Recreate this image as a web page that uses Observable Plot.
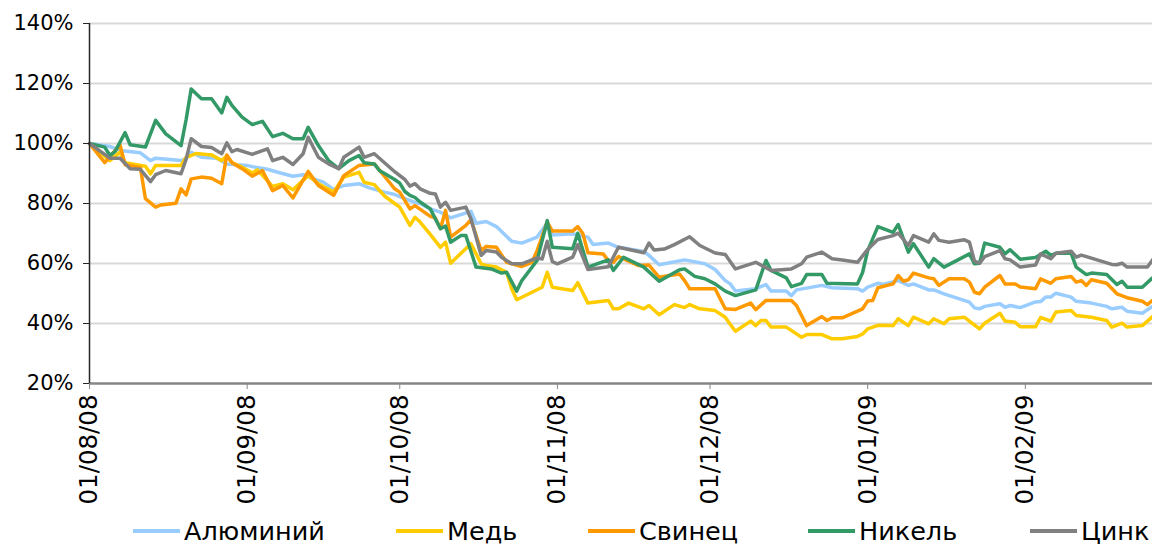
<!DOCTYPE html>
<html>
<head>
<meta charset="utf-8">
<script src="https://cdn.jsdelivr.net/npm/d3@7"></script>
<script src="https://cdn.jsdelivr.net/npm/@observablehq/plot@0.6"></script>
<style>
  html, body { margin: 0; padding: 0; background: #fff; }
  body { width: 1152px; height: 547px; overflow: hidden; font-family: "DejaVu Sans", Verdana, sans-serif; position: relative; }
  #legend { position: absolute; left: 0; top: 515px; width: 1152px; height: 32px; font-size: 25.5px; line-height: 30px; white-space: nowrap; color: #000; }
  #legend .item { position: absolute; top: 0; height: 32px; display: flex; align-items: center; }
  #legend .sw { width: 47px; height: 4px; margin-right: 4px; }
</style>
</head>
<body>
<div id="chart"></div>
<div id="legend"></div>
<script>
const seriesNames = ["Алюминий", "Медь", "Свинец", "Никель", "Цинк"];
const seriesColors = ["#99ccff", "#ffcc00", "#ff9900", "#339966", "#808080"];
const yTicks = [20, 40, 60, 80, 100, 120, 140];
const xTicks = ["2008-08-01", "2008-09-01", "2008-10-01", "2008-11-01", "2008-12-01", "2009-01-01", "2009-02-01"];
const xDomain = ["2008-08-01", "2009-02-26"];

const aluminium = [["2008-08-01",100],["2008-08-05",99],["2008-08-07",97.7],["2008-08-11",96.9],["2008-08-13",94.3],["2008-08-14",95.1],["2008-08-19",94.3],["2008-08-20",95],["2008-08-21",97.1],["2008-08-23",95.4],["2008-08-26",95.1],["2008-08-28",93.2],
["2008-09-01",92.7],["2008-09-02",92.3],["2008-09-05",91.4],["2008-09-07",90.4],["2008-09-10",89.1],["2008-09-12",89.6],["2008-09-14",88.2],["2008-09-16",87.1],["2008-09-18",84.6],["2008-09-20",86],["2008-09-23",86.6],["2008-09-25",85.2],["2008-09-28",83.8],["2008-09-30",83],
["2008-10-01",82.3],["2008-10-04",80.4],["2008-10-05",80],["2008-10-07",78.2],["2008-10-09",77.1],["2008-10-11",75.2],["2008-10-15",77.4],["2008-10-16",73.4],["2008-10-18",74],["2008-10-20",72.3],["2008-10-23",67.4],["2008-10-25",66.8],["2008-10-28",68.8],["2008-10-30",73.5],["2008-10-31",69.5],
["2008-11-04",69.9],["2008-11-07",68.8],["2008-11-08",66.3],["2008-11-11",66.8],["2008-11-13",65.4],["2008-11-18",64],["2008-11-19",62.7],["2008-11-21",59.6],["2008-11-26",61.2],["2008-11-30",59.9],
["2008-12-02",58],["2008-12-04",54.3],["2008-12-05",53.2],["2008-12-06",50.8],["2008-12-10",51.6],["2008-12-12",53],["2008-12-13",50.8],["2008-12-16",50.8],["2008-12-17",49.3],["2008-12-18",51.2],["2008-12-23",52.7],["2008-12-25",51.9],["2008-12-30",51.6],["2008-12-31",50.8],
["2009-01-01",52.1],["2009-01-03",53.4],["2009-01-04",53],["2009-01-07",54.3],["2009-01-09",52.7],["2009-01-10",53.2],["2009-01-13",51.2],["2009-01-14",51.2],["2009-01-16",49.9],["2009-01-21",47.1],["2009-01-22",45.2],["2009-01-23",44.9],["2009-01-24",45.7],["2009-01-27",46.6],["2009-01-28",45.4],["2009-01-29",46],["2009-01-31",45.3],
["2009-02-03",47.2],["2009-02-04",47.3],["2009-02-05",48.8],["2009-02-06",48.8],["2009-02-07",50.1],["2009-02-10",48.8],["2009-02-11",47.4],["2009-02-14",46.8],["2009-02-17",45.7],["2009-02-18",44.9],["2009-02-20",45.4],["2009-02-21",44.1],["2009-02-24",43.4],["2009-02-26",45.7]];

const copper = [["2008-08-01",100],["2008-08-05",94.3],["2008-08-07",97.1],["2008-08-08",93.6],["2008-08-12",92.4],["2008-08-13",89.9],["2008-08-14",92.7],["2008-08-19",92.7],["2008-08-20",95.4],["2008-08-21",96],["2008-08-22",96.7],["2008-08-25",96.2],["2008-08-27",94.3],["2008-08-28",95.9],["2008-08-29",93.6],["2008-08-31",92.1],
["2008-09-02",90.2],["2008-09-03",91.2],["2008-09-06",85.7],["2008-09-08",86.6],["2008-09-10",84.6],["2008-09-13",89.3],["2008-09-15",86.6],["2008-09-18",83.8],["2008-09-20",88.8],["2008-09-23",90.4],["2008-09-24",87.1],["2008-09-26",86.3],["2008-09-28",82.5],["2008-09-30",80],
["2008-10-01",78.8],["2008-10-03",72.7],["2008-10-04",75.4],["2008-10-05",73.8],["2008-10-07",69.7],["2008-10-09",65.4],["2008-10-10",67.1],["2008-10-11",60.1],["2008-10-15",66.6],["2008-10-17",59.9],["2008-10-18",59.3],["2008-10-20",58.8],["2008-10-22",57.1],["2008-10-23",51.6],["2008-10-24",47.9],["2008-10-29",52.1],["2008-10-30",57.1],["2008-10-31",52.1],
["2008-11-04",51],["2008-11-05",53.6],["2008-11-07",46.8],["2008-11-11",47.7],["2008-11-12",44.9],["2008-11-13",44.9],["2008-11-15",46.8],["2008-11-18",44.9],["2008-11-19",46],["2008-11-21",42.9],["2008-11-24",46.3],["2008-11-26",45.3],["2008-11-27",46.3],["2008-11-29",44.9],
["2008-12-02",44.3],["2008-12-04",42.1],["2008-12-05",39.7],["2008-12-06",37.4],["2008-12-09",40.8],["2008-12-10",39.3],["2008-12-11",41],["2008-12-12",41],["2008-12-13",38.8],["2008-12-16",38.8],["2008-12-19",35.4],["2008-12-20",36.3],["2008-12-23",36.3],["2008-12-25",34.9],["2008-12-27",34.9],["2008-12-30",35.7],["2008-12-31",36.5],
["2009-01-01",38.2],["2009-01-03",39.4],["2009-01-06",39.3],["2009-01-07",41.6],["2009-01-09",39.3],["2009-01-10",42.1],["2009-01-13",39.9],["2009-01-14",41.6],["2009-01-16",39.9],["2009-01-17",41.6],["2009-01-20",42.1],["2009-01-21",40.8],["2009-01-23",38.2],["2009-01-24",40.1],["2009-01-27",43.4],["2009-01-28",40.8],["2009-01-30",40.4],["2009-01-31",38.9],
["2009-02-03",38.9],["2009-02-04",42],["2009-02-06",40.8],["2009-02-07",43.8],["2009-02-10",44.3],["2009-02-11",42.7],["2009-02-14",42.1],["2009-02-17",41],["2009-02-18",38.8],["2009-02-20",40.1],["2009-02-21",38.8],["2009-02-24",39.3],["2009-02-26",42.3]];

const lead = [["2008-08-01",100],["2008-08-04",93.6],["2008-08-07",99.5],["2008-08-08",92.9],["2008-08-11",92],["2008-08-12",81.6],["2008-08-14",78.8],["2008-08-15",79.5],["2008-08-18",80.1],["2008-08-19",84.9],["2008-08-20",82.9],["2008-08-21",88.2],["2008-08-23",88.8],["2008-08-25",88.4],["2008-08-27",86.6],["2008-08-28",96.2],["2008-08-29",93.6],["2008-08-31",91.6],
["2008-09-02",89.1],["2008-09-04",91],["2008-09-06",84.3],["2008-09-08",86],["2008-09-10",81.9],["2008-09-13",90.7],["2008-09-15",86],["2008-09-18",82.7],["2008-09-20",89.3],["2008-09-23",92.7],["2008-09-26",93.2],["2008-09-29",87],["2008-09-30",84.9],
["2008-10-01",83.8],["2008-10-03",78.2],["2008-10-04",79.3],["2008-10-07",75.7],["2008-10-08",75.2],["2008-10-09",71.6],["2008-10-10",77.7],["2008-10-11",68.8],["2008-10-14",72.7],["2008-10-15",74.6],["2008-10-17",64.3],["2008-10-18",65.7],["2008-10-20",65.4],["2008-10-22",60.4],["2008-10-25",59],["2008-10-27",60.4],["2008-10-28",64.3],["2008-10-30",73.8],["2008-10-31",70.8],
["2008-11-04",70.8],["2008-11-05",72.3],["2008-11-06",70],["2008-11-07",63.6],["2008-11-10",63.2],["2008-11-11",61],["2008-11-12",60.4],["2008-11-13",62.3],["2008-11-17",59.3],["2008-11-19",59.5],["2008-11-21",55.4],["2008-11-23",56],["2008-11-25",56.5],["2008-11-26",54.3],["2008-11-27",51.6],
["2008-12-02",51.6],["2008-12-04",44.9],["2008-12-06",44.7],["2008-12-09",46.8],["2008-12-10",44.6],["2008-12-12",47.7],["2008-12-17",47.7],["2008-12-18",46],["2008-12-20",39.3],["2008-12-23",42.3],["2008-12-24",41],["2008-12-25",41.9],["2008-12-27",41.9],["2008-12-30",44.1],["2008-12-31",44.9],
["2009-01-01",47.5],["2009-01-02",47.7],["2009-01-03",51.9],["2009-01-06",53.2],["2009-01-07",56],["2009-01-08",54.1],["2009-01-09",54.6],["2009-01-10",56.8],["2009-01-13",55.2],["2009-01-14",54.9],["2009-01-15",52.7],["2009-01-17",54.9],["2009-01-20",54.9],["2009-01-21",53.8],["2009-01-22",50.4],["2009-01-23",49.9],["2009-01-24",52.1],["2009-01-27",56],["2009-01-28",53.2],["2009-01-30",53.2],["2009-01-31",52.2],
["2009-02-03",51.6],["2009-02-04",54.9],["2009-02-06",53.4],["2009-02-07",54.9],["2009-02-10",55.7],["2009-02-11",53.8],["2009-02-12",54.3],["2009-02-13",52.7],["2009-02-14",54.6],["2009-02-17",53.4],["2009-02-19",49.9],["2009-02-21",48.6],["2009-02-24",47.4],["2009-02-25",46.3],["2009-02-26",47.7]];

const nickel = [["2008-08-01",100],["2008-08-04",98.8],["2008-08-05",96],["2008-08-06",97.3],["2008-08-08",103.6],["2008-08-09",99.6],["2008-08-12",98.8],["2008-08-14",107.7],["2008-08-16",103.2],["2008-08-19",99.3],["2008-08-20",108],["2008-08-21",118.2],["2008-08-23",114.9],["2008-08-25",114.9],["2008-08-27",110.2],["2008-08-28",115.4],["2008-08-29",112.7],["2008-08-31",108.8],
["2008-09-02",106.3],["2008-09-04",107.4],["2008-09-06",102.3],["2008-09-08",103.4],["2008-09-10",101.6],["2008-09-12",101.6],["2008-09-13",105.4],["2008-09-15",99.3],["2008-09-17",94.3],["2008-09-19",91.6],["2008-09-21",94.3],["2008-09-23",96],["2008-09-24",93.6],["2008-09-26",93.2],["2008-09-27",91],["2008-09-30",88],
["2008-10-01",86.8],["2008-10-02",84],["2008-10-03",82.7],["2008-10-04",82],["2008-10-05",80.5],["2008-10-07",78.2],["2008-10-09",71.6],["2008-10-10",72.5],["2008-10-11",67.1],["2008-10-13",69.3],["2008-10-14",69.3],["2008-10-16",58.8],["2008-10-19",58.2],["2008-10-21",56.8],["2008-10-22",57.1],["2008-10-24",50.8],["2008-10-25",54.3],["2008-10-28",61],["2008-10-30",74.3],["2008-10-31",65.4],
["2008-11-04",64.9],["2008-11-05",70.1],["2008-11-07",58.8],["2008-11-11",61.2],["2008-11-12",57.7],["2008-11-14",62.1],["2008-11-18",58.8],["2008-11-21",54.1],["2008-11-25",57.9],["2008-11-26",58.2],["2008-11-28",55.7],["2008-11-30",54.9],
["2008-12-02",53.2],["2008-12-04",50.8],["2008-12-06",49.3],["2008-12-10",51.2],["2008-12-12",61],["2008-12-13",57.7],["2008-12-16",55.2],["2008-12-17",52.3],["2008-12-19",53.4],["2008-12-20",56.3],["2008-12-23",56.3],["2008-12-24",53.4],["2008-12-30",53.2],["2008-12-31",57],
["2009-01-01",64.3],["2009-01-03",72.3],["2009-01-06",70.4],["2009-01-07",73],["2009-01-09",63.8],["2009-01-10",66.6],["2009-01-13",58.8],["2009-01-14",61.6],["2009-01-16",58.8],["2009-01-21",63.2],["2009-01-22",59.9],["2009-01-23",60.1],["2009-01-24",66.8],["2009-01-27",65.4],["2009-01-28",63.2],["2009-01-29",64.6],["2009-01-31",61.4],
["2009-02-03",62],["2009-02-05",64.1],["2009-02-06",62.7],["2009-02-07",63.4],["2009-02-10",63.4],["2009-02-11",58.8],["2009-02-13",56.3],["2009-02-14",56.8],["2009-02-17",56.3],["2009-02-19",53],["2009-02-20",54.1],["2009-02-21",52.1],["2009-02-24",52.1],["2009-02-26",55.2]];

const zinc = [["2008-08-01",100],["2008-08-05",95.1],["2008-08-07",95.1],["2008-08-09",91.6],["2008-08-11",91.4],["2008-08-13",87.3],["2008-08-14",89.6],["2008-08-16",91],["2008-08-19",89.9],["2008-08-20",94.8],["2008-08-21",101.6],["2008-08-23",99],["2008-08-25",98.7],["2008-08-27",96.6],["2008-08-28",100.2],["2008-08-29",97.3],["2008-08-30",98],
["2008-09-02",96.4],["2008-09-05",98.2],["2008-09-06",94.3],["2008-09-08",95.4],["2008-09-10",93],["2008-09-12",96.6],["2008-09-13",102.1],["2008-09-15",95.4],["2008-09-17",93.2],["2008-09-19",91.6],["2008-09-20",95.4],["2008-09-23",98.8],["2008-09-24",95.4],["2008-09-26",96.6],["2008-09-30",90.6],
["2008-10-02",88],["2008-10-03",85.8],["2008-10-04",86.6],["2008-10-05",84.9],["2008-10-07",83.4],["2008-10-08",83.2],["2008-10-09",78.8],["2008-10-10",80.4],["2008-10-11",77.7],["2008-10-14",78.8],["2008-10-15",74.9],["2008-10-17",62.7],["2008-10-18",64.3],["2008-10-20",63.8],["2008-10-21",62.1],["2008-10-23",59.9],["2008-10-25",59.9],["2008-10-28",61.9],["2008-10-29",61.5],["2008-10-30",67.4],["2008-10-31",60.6],
["2008-11-01",59.9],["2008-11-04",62.1],["2008-11-05",66.3],["2008-11-07",58],["2008-11-11",58.9],["2008-11-13",65.4],["2008-11-18",63.6],["2008-11-19",66.8],["2008-11-20",64.5],["2008-11-22",64.8],["2008-11-24",66.3],["2008-11-27",68.9],["2008-11-29",66],
["2008-12-02",63.5],["2008-12-04",63],["2008-12-06",58.2],["2008-12-10",60.4],["2008-12-13",57.7],["2008-12-17",58.2],["2008-12-19",59.9],["2008-12-20",62.1],["2008-12-23",63.8],["2008-12-25",61.6],["2008-12-27",61.2],["2008-12-30",60.4],
["2009-01-01",64.7],["2009-01-03",68],["2009-01-06",69.3],["2009-01-07",70.1],["2009-01-09",66],["2009-01-10",69.3],["2009-01-13",67.1],["2009-01-14",69.9],["2009-01-15",67.7],["2009-01-17",67.1],["2009-01-20",67.9],["2009-01-21",67.1],["2009-01-22",60.8],["2009-01-23",60.1],["2009-01-24",62.3],["2009-01-27",64.3],["2009-01-28",61.6],["2009-01-29",61.2],["2009-01-31",58.8],
["2009-02-03",59.5],["2009-02-04",63.2],["2009-02-06",61.6],["2009-02-07",63.4],["2009-02-10",64.1],["2009-02-11",62.1],["2009-02-12",62.8],["2009-02-18",59.7],["2009-02-19",59.6],["2009-02-20",60.1],["2009-02-21",58.8],["2009-02-25",58.8],["2009-02-26",61.2]];

const seriesData = [aluminium, copper, lead, nickel, zinc];
const parse = (s) => new Date(s + "T00:00:00Z");

const lineMarks = seriesData.map((data, i) =>
  Plot.line(data, {
    x: (d) => parse(d[0]),
    y: (d) => d[1],
    stroke: seriesColors[i],
    strokeWidth: 3.5,
    strokeLinejoin: "round",
    strokeLinecap: "round"
  })
);

const chart = Plot.plot({
  width: 1152,
  height: 515,
  marginLeft: 89,
  marginRight: 0,
  marginTop: 23,
  marginBottom: 132,
  style: { fontFamily: "'DejaVu Sans', Verdana, sans-serif", color: "#000", background: "#fff" },
  x: { type: "utc", domain: xDomain.map(parse) },
  y: { domain: [20, 140] },
  marks: [
    Plot.ruleY(yTicks.filter((t) => t > 20), { stroke: "#d9d9d9", strokeWidth: 2 }),
    ...lineMarks,
    Plot.ruleY([20], { stroke: "#868686", strokeWidth: 2.5 }),
    Plot.ruleX([parse(xDomain[0])], { stroke: "#262626", strokeWidth: 1.5 }),
    Plot.axisY({ ticks: yTicks, tickFormat: (d) => d + "%", tickSize: 6, tickPadding: 10, fontSize: 21, stroke: "#262626" }),
    Plot.axisX({ ticks: xTicks.map(parse), tickFormat: d3.utcFormat("%d/%m/%y"), tickRotate: -90, tickSize: 6, tickPadding: 5, fontSize: 24.5, stroke: "#868686" })
  ]
});
document.getElementById("chart").appendChild(chart);

// legend entries laid out like the original, left to right
const legendLeft = [133, 396, 588, 808, 1030];
const legend = document.getElementById("legend");
seriesNames.forEach((name, i) => {
  const item = document.createElement("div");
  item.className = "item";
  item.style.left = legendLeft[i] + "px";
  const sw = document.createElement("span");
  sw.className = "sw";
  sw.style.background = seriesColors[i];
  const label = document.createElement("span");
  label.textContent = name;
  item.appendChild(sw);
  item.appendChild(label);
  legend.appendChild(item);
});
</script>
</body>
</html>
